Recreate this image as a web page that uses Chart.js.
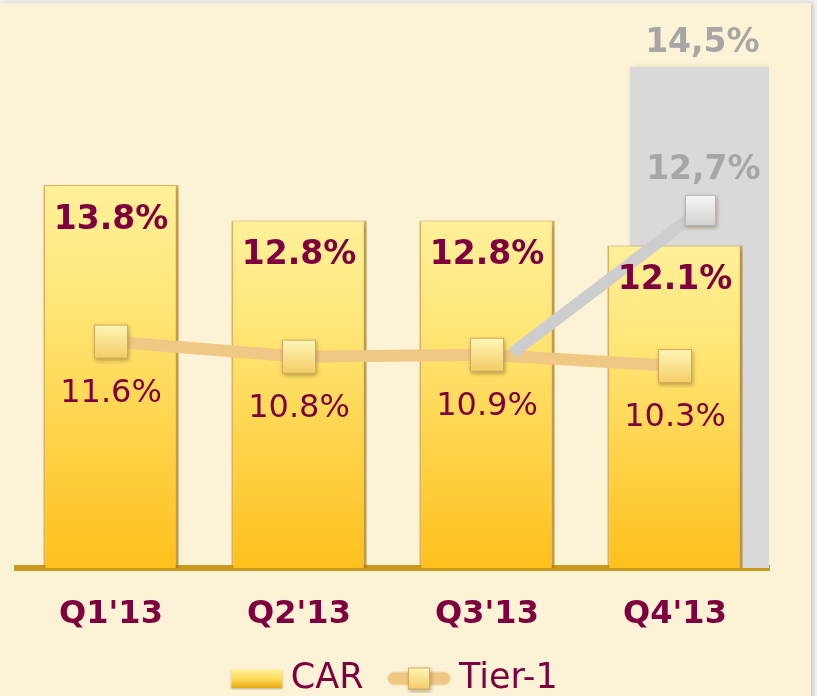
<!DOCTYPE html>
<html>
<head>
<meta charset="utf-8">
<script src="https://cdn.jsdelivr.net/npm/chart.js@4.4.1/dist/chart.umd.min.js"></script>
<style>
  html, body { margin: 0; padding: 0; background: #f3f3f3; }
  canvas { display: block; }
</style>
</head>
<body>
<canvas id="chart" width="817" height="696"></canvas>
<script>
const quarters = ["Q1'13", "Q2'13", "Q3'13", "Q4'13"];
const carValues = [13.8, 12.8, 12.8, 12.1];
const tier1Values = [11.6, 10.8, 10.9, 10.3];
const carProForma = [null, null, null, 14.5];
const tier1ProForma = [null, null, 10.9, 12.7];
const seriesNames = ['CAR', 'Tier-1', 'CAR pro forma', 'Tier-1 pro forma'];

const MAROON = '#7E003F';
const GREY_TEXT = '#A6A6A6';
const FONT = "'DejaVu Sans', Verdana, sans-serif";

Chart.defaults.font.family = FONT;

// little square markers with a soft drop shadow
const makeMarker = (size, light, dark, edge) => {
    const pad = 5;
    const cv = document.createElement('canvas');
    cv.width = cv.height = size + pad * 2;
    const c = cv.getContext('2d');
    c.shadowColor = 'rgba(100,80,30,0.45)';
    c.shadowBlur = 4;
    c.shadowOffsetX = 1;
    c.shadowOffsetY = 2;
    const g = c.createLinearGradient(0, pad, 0, pad + size);
    g.addColorStop(0, light);
    g.addColorStop(1, dark);
    c.fillStyle = g;
    c.fillRect(pad, pad, size, size);
    c.shadowColor = 'transparent';
    c.strokeStyle = edge;
    c.lineWidth = 1;
    c.strokeRect(pad + 0.5, pad + 0.5, size - 1, size - 1);
    return cv;
};

const tierMarker = makeMarker(34, '#FFF7B8', '#F3CC66', '#D2A95A');
const greyMarker = makeMarker(31, '#F6F6F6', '#D2D2D2', '#B5B5B5');

// legend swatches
const carSwatch = (() => {
    const cv = document.createElement('canvas');
    cv.width = 67; cv.height = 23;
    const c = cv.getContext('2d');
    c.shadowColor = 'rgba(100,80,30,0.4)';
    c.shadowBlur = 2;
    c.shadowOffsetY = 1;
    const g = c.createLinearGradient(0, 2, 0, 21);
    g.addColorStop(0, '#FFF2A0');
    g.addColorStop(0.5, '#FFDC5C');
    g.addColorStop(1, '#E9A912');
    c.fillStyle = g;
    c.fillRect(14, 2, 51, 19);
    return cv;
})();

const tierSwatch = (() => {
    const cv = document.createElement('canvas');
    cv.width = 66; cv.height = 28;
    const c = cv.getContext('2d');
    c.strokeStyle = '#F0C886';
    c.lineWidth = 13;
    c.lineCap = 'round';
    c.beginPath();
    c.moveTo(8, 14);
    c.lineTo(58, 14);
    c.stroke();
    c.drawImage(makeMarker(22, '#FFF7B8', '#F3CC66', '#D2A95A'), 33 - 16, 14 - 16);
    return cv;
})();

const carFill = ctx => {
    const chart = ctx.chart;
    const area = chart.chartArea;
    const ys = chart.scales.yC;
    if (!area || !ys || ctx.raw == null) return '#FFD84A';
    const top = ys.getPixelForValue(ctx.raw);
    if (!isFinite(top)) return '#FFD84A';
    const g = chart.ctx.createLinearGradient(0, top, 0, area.bottom);
    g.addColorStop(0, '#FFF09A');
    g.addColorStop(0.3, '#FFE678');
    g.addColorStop(1, '#FFC01C');
    return g;
};

const toPoints = arr => arr.map((v, i) => ({ x: i, y: v })).filter(p => p.y !== null);

const hidden = (min, max) => ({ type: 'linear', display: false, offset: false, min, max, ticks: { display: false } });

const panel = {
    id: 'panel',
    beforeDraw(chart) {
        const c = chart.ctx;
        c.save();
        c.fillStyle = '#f3f3f3';
        c.fillRect(0, 0, chart.width, chart.height);
        c.shadowColor = 'rgba(0,0,0,0.2)';
        c.shadowBlur = 5;
        c.shadowOffsetX = 2;
        c.fillStyle = '#FCF2D6';
        c.fillRect(0, 3, 811, chart.height);
        c.restore();
    }
};

const barShadow = {
    id: 'barShadow',
    beforeDatasetDraw(chart, args) {
        if (args.meta.type !== 'bar') return;
        const c = chart.ctx;
        c.save();
        c.shadowColor = 'rgba(110,80,20,0.35)';
        c.shadowBlur = 6;
        c.shadowOffsetX = 3;
        c.shadowOffsetY = 2;
    },
    afterDatasetDraw(chart, args) {
        if (args.meta.type === 'bar') chart.ctx.restore();
    }
};

const valueLabels = {
    id: 'valueLabels',
    afterDatasetsDraw(chart) {
        const c = chart.ctx;
        chart.data.datasets.forEach((ds, di) => {
            const lab = ds.valueLabel;
            if (!lab) return;
            const meta = chart.getDatasetMeta(di);
            meta.data.forEach((el, i) => {
                if (lab.lastOnly && i !== meta.data.length - 1) return;
                const v = meta.controller.getParsed(i).y;
                if (v == null || isNaN(v)) return;
                const txt = v.toFixed(1).replace('.', lab.decimal) + '%';
                c.save();
                c.font = lab.font;
                c.fillStyle = lab.color;
                c.textAlign = 'center';
                c.textBaseline = 'middle';
                c.fillText(txt, el.x + (lab.dx || 0), el.y + lab.dy);
                c.restore();
            });
        });
    }
};

new Chart(document.getElementById('chart'), {
    type: 'bar',
    data: {
        labels: quarters,
        datasets: [
            {
                type: 'bar',
                label: seriesNames[0],
                data: carValues,
                xAxisID: 'x',
                yAxisID: 'yC',
                order: 2,
                grouped: false,
                backgroundColor: carFill,
                borderColor: 'rgba(205,150,25,0.6)',
                borderWidth: { left: 2, right: 3, top: 1, bottom: 0 },
                borderSkipped: false,
                categoryPercentage: 1,
                barPercentage: 0.72,
                valueLabel: { font: `bold 33px ${FONT}`, color: MAROON, dy: 35, decimal: '.' }
            },
            {
                type: 'line',
                label: seriesNames[1],
                data: tier1Values,
                xAxisID: 'x',
                yAxisID: 'yT',
                order: 1,
                borderColor: '#F0C886',
                borderWidth: 12,
                tension: 0,
                pointStyle: tierMarker,
                pointRadius: 18,
                pointHoverRadius: 18,
                valueLabel: { font: `32px ${FONT}`, color: MAROON, dy: 52, decimal: '.' }
            },
            {
                type: 'bar',
                label: seriesNames[2],
                data: toPoints(carProForma),
                xAxisID: 'x2',
                yAxisID: 'yP',
                order: 3,
                grouped: false,
                backgroundColor: '#D9D9D9',
                borderWidth: 0,
                barThickness: 140,
                valueLabel: { font: `bold 33px ${FONT}`, color: GREY_TEXT, dy: -24, dx: 2, decimal: ',' }
            },
            {
                type: 'line',
                label: seriesNames[3],
                data: toPoints(tier1ProForma),
                xAxisID: 'x2',
                yAxisID: 'yP',
                order: 0,
                borderColor: '#CDCDCD',
                borderWidth: 12,
                tension: 0,
                pointStyle: ctx => ctx.dataIndex === 1 ? greyMarker : false,
                pointRadius: ctx => ctx.dataIndex === 1 ? 16 : 0,
                valueLabel: { font: `bold 33px ${FONT}`, color: GREY_TEXT, dy: -40, dx: 3, decimal: ',', lastOnly: true }
            }
        ]
    },
    options: {
        responsive: false,
        animation: false,
        events: [],
        layout: { autoPadding: false, padding: { top: 20, left: 17, right: 48, bottom: -10 } },
        scales: {
            x: {
                type: 'category',
                offset: true,
                z: 1,
                grid: { display: false, drawTicks: false },
                border: { display: true, color: '#C9991B', width: 6 },
                ticks: { color: MAROON, font: { size: 32, weight: 'bold' }, padding: 27 },
                afterFit: s => { s.height = 60; s.paddingLeft = 0; s.paddingRight = 0; }
            },
            x2: hidden(-0.635, 3.365),
            yC: hidden(3.01, 18.45),
            yT: hidden(-0.41, 28.66),
            yP: hidden(8.19, 15.1)
        },
        plugins: {
            tooltip: { enabled: false },
            legend: {
                position: 'bottom',
                labels: {
                    usePointStyle: true,
                    pointStyleWidth: 45,
                    padding: 33,
                    color: MAROON,
                    font: { size: 35 },
                    generateLabels: chart => {
                        const items = Chart.defaults.plugins.legend.labels.generateLabels(chart)
                            .filter(it => it.datasetIndex < 2)
                            .sort((a, b) => a.datasetIndex - b.datasetIndex);
                        items[0].pointStyle = carSwatch;
                        items[1].pointStyle = tierSwatch;
                        items.forEach(it => { it.fontColor = MAROON; it.rotation = 0; });
                        return items;
                    }
                }
            }
        }
    },
    plugins: [panel, barShadow, valueLabels]
});
</script>
</body>
</html>
